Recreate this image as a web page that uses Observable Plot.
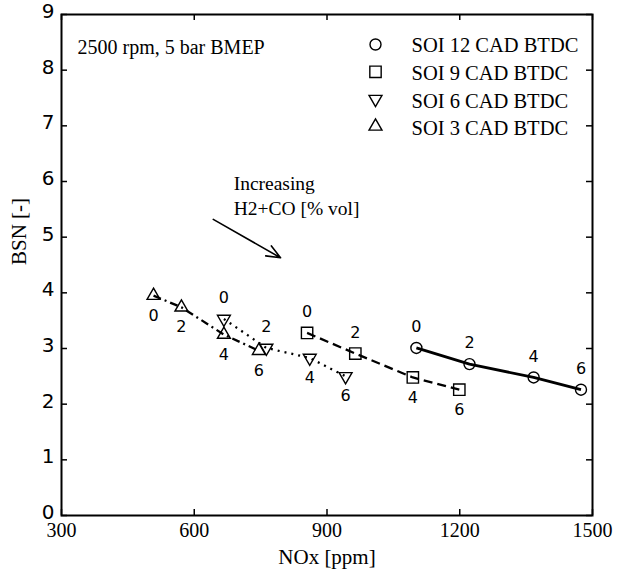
<!DOCTYPE html>
<html>
<head>
<meta charset="utf-8">
<script src="https://cdn.jsdelivr.net/npm/d3@7"></script>
<script src="https://cdn.jsdelivr.net/npm/@observablehq/plot@0.6"></script>
<style>
  body { margin: 0; background: #fff; }
  #chart svg { display: block; }
</style>
</head>
<body>
<div id="chart"></div>
<script>
// H2+CO enrichment levels [% vol] labelled next to each point
const h2co = [0, 2, 4, 6];

// Start of injection series
const seriesNames = ["SOI 12 CAD BTDC", "SOI 9 CAD BTDC", "SOI 6 CAD BTDC", "SOI 3 CAD BTDC"];

// NOx [ppm] and BSN [-] for each injection timing
const noxSoi12 = [1102, 1222, 1367, 1474];
const bsnSoi12 = [3.01, 2.72, 2.48, 2.26];
const noxSoi9 = [855, 964, 1094, 1199];
const bsnSoi9 = [3.28, 2.91, 2.48, 2.26];
const noxSoi6 = [667, 763, 861, 942];
const bsnSoi6 = [3.53, 3.01, 2.83, 2.50];
const noxSoi3 = [508, 571, 667, 746];
const bsnSoi3 = [3.95, 3.74, 3.25, 2.96];

// Axis ticks
const xTicks = [300, 600, 900, 1200, 1500];
const yTicks = [0, 1, 2, 3, 4, 5, 6, 7, 8, 9];

// Annotation texts
const conditionText = "2500 rpm, 5 bar BMEP";
const trendText = "Increasing\nH2+CO [% vol]";
const trendArrow = [{x1: 643, y1: 5.32, x2: 795, y2: 4.63}];
const trendTextPos = [{x: 689, y: 5.76}];

const noxBySeries = [noxSoi12, noxSoi9, noxSoi6, noxSoi3];
const bsnBySeries = [bsnSoi12, bsnSoi9, bsnSoi6, bsnSoi3];

// Marker, line style and label side (-1 above, +1 below) for each series
const styles = [
  {symbol: "circle", rotate: 0, r: 5.5, dash: null, width: 2.8, sides: [-1, -1, -1, -1]},
  {symbol: "square", rotate: 0, r: 6.4, dash: "9,5", width: 2.3, sides: [-1, -1, 1, 1]},
  {symbol: "triangle", rotate: 180, r: 4.8, dash: "2,5", width: 2.3, sides: [-1, -1, 1, 1]},
  {symbol: "triangle", rotate: 0, r: 4.8, dash: "8,4,2,4", width: 2.3, sides: [1, 1, 1, 1]}
];

const points = seriesNames.flatMap((name, s) =>
  h2co.map((h, i) => ({
    series: name, s, h2co: h,
    nox: noxBySeries[s][i], bsn: bsnBySeries[s][i],
    side: styles[s].sides[i]
  }))
);

const W = 619, H = 573;
const mL = 61, mR = 27, mT = 14, mB = 58;
const fw = W - mL - mR, fh = H - mT - mB;
const serif = "'Liberation Serif', 'Times New Roman', serif";
const sans = "'DejaVu Sans', Verdana, sans-serif";

const marks = [];

// One line + markers per series
seriesNames.forEach((name, s) => {
  const st = styles[s];
  const data = points.filter(d => d.s === s);
  marks.push(Plot.line(data, {
    x: "nox", y: "bsn", stroke: "black", strokeWidth: st.width,
    strokeDasharray: st.dash ?? undefined, strokeLinecap: "butt"
  }));
  marks.push(Plot.dot(data, {
    x: "nox", y: "bsn", symbol: st.symbol, rotate: st.rotate, r: st.r,
    stroke: "black", strokeWidth: 1.4, fill: "none"
  }));
});

// Point labels (H2+CO %) above or below the markers
marks.push(Plot.text(points.filter(d => d.side < 0), {
  x: "nox", y: "bsn", text: d => String(d.h2co), dy: -21,
  fontSize: 16, fontFamily: sans, fill: "black"
}));
marks.push(Plot.text(points.filter(d => d.side > 0), {
  x: "nox", y: "bsn", text: d => String(d.h2co), dy: 20,
  fontSize: 16, fontFamily: sans, fill: "black"
}));

// Legend entries, top right inside the frame
seriesNames.forEach((name, s) => {
  const st = styles[s];
  marks.push(Plot.dot([name], {
    frameAnchor: "top-left", dx: 314, dy: 30 + s * 27.3,
    symbol: st.symbol, rotate: st.rotate, r: st.r,
    stroke: "black", strokeWidth: 1.4, fill: "none"
  }));
  marks.push(Plot.text([name], {
    frameAnchor: "top-left", dx: 350, dy: 31 + s * 27.8, text: d => d,
    textAnchor: "start", lineAnchor: "middle",
    fontSize: 20.5, fontFamily: serif, fill: "black"
  }));
});

// Operating condition note
marks.push(Plot.text([conditionText], {
  frameAnchor: "top-left", dx: 16, dy: 33, text: d => d,
  textAnchor: "start", lineAnchor: "middle",
  fontSize: 20, fontFamily: serif, fill: "black"
}));

// Trend annotation with arrow
marks.push(Plot.text(trendTextPos, {
  x: "x", y: "y", text: () => trendText, textAnchor: "start", lineAnchor: "middle",
  lineHeight: 1.25, fontSize: 19.5, fontFamily: serif, fill: "black"
}));
marks.push(Plot.arrow(trendArrow, {
  x1: "x1", y1: "y1", x2: "x2", y2: "y2",
  stroke: "black", strokeWidth: 1.6, headLength: 14, headAngle: 45
}));

// Inward ticks on all four sides
marks.push(Plot.tickX(xTicks, {x: d => d, insetTop: fh - 6, stroke: "black", strokeWidth: 1.5}));
marks.push(Plot.tickX(xTicks, {x: d => d, insetBottom: fh - 6, stroke: "black", strokeWidth: 1.5}));
marks.push(Plot.tickY(yTicks, {y: d => d, insetRight: fw - 6, stroke: "black", strokeWidth: 1.5}));
marks.push(Plot.tickY(yTicks, {y: d => d, insetLeft: fw - 6, stroke: "black", strokeWidth: 1.5}));

// Tick labels and axis titles
marks.push(Plot.axisX(xTicks, {
  tickSize: 0, tickPadding: 7, fontSize: 20, fontFamily: serif, label: null,
  tickFormat: d => String(d)
}));
marks.push(Plot.axisY(yTicks, {
  tickSize: 0, tickPadding: 7, fontSize: 20, fontFamily: sans, label: null, dy: -3,
  tickFormat: d => String(d)
}));
marks.push(Plot.text(["NOx [ppm]"], {
  frameAnchor: "bottom", dy: 42, text: d => d, lineAnchor: "middle",
  fontSize: 21, fontFamily: serif, fill: "black"
}));
marks.push(Plot.text(["BSN [-]"], {
  frameAnchor: "left", dx: -42, rotate: -90, text: d => d, lineAnchor: "middle",
  fontSize: 21, fontFamily: serif, fill: "black"
}));

marks.push(Plot.frame({stroke: "black", strokeWidth: 2}));

const chart = Plot.plot({
  width: W, height: H,
  marginLeft: mL, marginRight: mR, marginTop: mT, marginBottom: mB,
  style: {background: "#fff", color: "black", fontFamily: serif},
  x: {domain: [300, 1500], axis: null},
  y: {domain: [0, 9], axis: null},
  marks
});
document.getElementById("chart").appendChild(chart);
</script>
</body>
</html>
